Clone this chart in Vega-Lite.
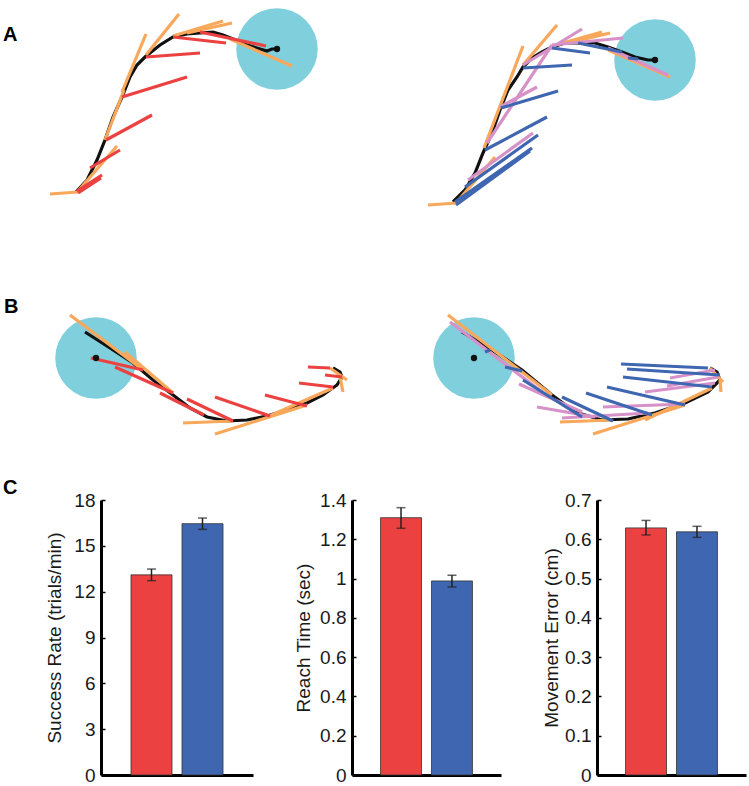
{
  "$schema": "https://vega.github.io/schema/vega-lite/v6.json",
  "padding": 0,
  "background": "white",
  "spacing": 0,
  "datasets": {
    "letters": [
      {"panel": "A1", "label": "A", "x": 3, "y": 41},
      {"panel": "B1", "label": "B", "x": 4, "y": 313},
      {"panel": "C0", "label": "C", "x": 3, "y": 494}
    ],
    "targets": [
      {"panel": "A1", "x": 277, "y": 49},
      {"panel": "A2", "x": 635, "y": 60},
      {"panel": "B1", "x": 96, "y": 358},
      {"panel": "B2", "x": 454, "y": 358}
    ],
    "paths": [
      {"panel": "A1", "i": 1, "x": 76, "y": 192}, {"panel": "A1", "i": 2, "x": 87, "y": 180}, {"panel": "A1", "i": 3, "x": 97, "y": 160}, {"panel": "A1", "i": 4, "x": 105, "y": 140}, {"panel": "A1", "i": 5, "x": 113, "y": 117}, {"panel": "A1", "i": 6, "x": 122, "y": 97}, {"panel": "A1", "i": 7, "x": 130, "y": 77}, {"panel": "A1", "i": 8, "x": 137, "y": 65}, {"panel": "A1", "i": 9, "x": 145, "y": 57}, {"panel": "A1", "i": 10, "x": 160, "y": 45}, {"panel": "A1", "i": 11, "x": 173, "y": 37}, {"panel": "A1", "i": 12, "x": 187, "y": 34}, {"panel": "A1", "i": 13, "x": 200, "y": 33}, {"panel": "A1", "i": 14, "x": 213, "y": 32}, {"panel": "A1", "i": 15, "x": 223, "y": 35}, {"panel": "A1", "i": 16, "x": 233, "y": 39}, {"panel": "A1", "i": 17, "x": 247, "y": 45}, {"panel": "A1", "i": 18, "x": 260, "y": 49}, {"panel": "A1", "i": 19, "x": 267, "y": 51}, {"panel": "A1", "i": 20, "x": 272, "y": 49}, {"panel": "A1", "i": 21, "x": 277, "y": 49},
      {"panel": "A2", "i": 1, "x": 433, "y": 202}, {"panel": "A2", "i": 2, "x": 445, "y": 190}, {"panel": "A2", "i": 3, "x": 455, "y": 173}, {"panel": "A2", "i": 4, "x": 463, "y": 153}, {"panel": "A2", "i": 5, "x": 472, "y": 133}, {"panel": "A2", "i": 6, "x": 480, "y": 110}, {"panel": "A2", "i": 7, "x": 488, "y": 90}, {"panel": "A2", "i": 8, "x": 497, "y": 77}, {"panel": "A2", "i": 9, "x": 503, "y": 67}, {"panel": "A2", "i": 10, "x": 512, "y": 58}, {"panel": "A2", "i": 11, "x": 522, "y": 52}, {"panel": "A2", "i": 12, "x": 532, "y": 47}, {"panel": "A2", "i": 13, "x": 545, "y": 43}, {"panel": "A2", "i": 14, "x": 562, "y": 43}, {"panel": "A2", "i": 15, "x": 575, "y": 43}, {"panel": "A2", "i": 16, "x": 588, "y": 47}, {"panel": "A2", "i": 17, "x": 602, "y": 52}, {"panel": "A2", "i": 18, "x": 615, "y": 57}, {"panel": "A2", "i": 19, "x": 628, "y": 60}, {"panel": "A2", "i": 20, "x": 635, "y": 60},
      {"panel": "B1", "i": 1, "x": 333, "y": 368}, {"panel": "B1", "i": 2, "x": 340, "y": 372}, {"panel": "B1", "i": 3, "x": 342, "y": 377}, {"panel": "B1", "i": 4, "x": 337, "y": 385}, {"panel": "B1", "i": 5, "x": 323, "y": 395}, {"panel": "B1", "i": 6, "x": 307, "y": 403}, {"panel": "B1", "i": 7, "x": 287, "y": 410}, {"panel": "B1", "i": 8, "x": 267, "y": 416}, {"panel": "B1", "i": 9, "x": 247, "y": 420}, {"panel": "B1", "i": 10, "x": 227, "y": 421}, {"panel": "B1", "i": 11, "x": 207, "y": 417}, {"panel": "B1", "i": 12, "x": 190, "y": 408}, {"panel": "B1", "i": 13, "x": 173, "y": 395}, {"panel": "B1", "i": 14, "x": 153, "y": 380}, {"panel": "B1", "i": 15, "x": 133, "y": 363}, {"panel": "B1", "i": 16, "x": 110, "y": 348}, {"panel": "B1", "i": 17, "x": 85, "y": 332},
      {"panel": "B2", "i": 1, "x": 690, "y": 368}, {"panel": "B2", "i": 2, "x": 697, "y": 372}, {"panel": "B2", "i": 3, "x": 700, "y": 380}, {"panel": "B2", "i": 4, "x": 688, "y": 392}, {"panel": "B2", "i": 5, "x": 665, "y": 403}, {"panel": "B2", "i": 6, "x": 635, "y": 413}, {"panel": "B2", "i": 7, "x": 608, "y": 419}, {"panel": "B2", "i": 8, "x": 582, "y": 420}, {"panel": "B2", "i": 9, "x": 555, "y": 412}, {"panel": "B2", "i": 10, "x": 532, "y": 395}, {"panel": "B2", "i": 11, "x": 502, "y": 370}, {"panel": "B2", "i": 12, "x": 472, "y": 350}, {"panel": "B2", "i": 13, "x": 442, "y": 332}
    ],
    "segs": [
      {"panel": "A1", "series": "Optimal", "x": 50, "y": 194, "x2": 78, "y2": 192},
      {"panel": "A1", "series": "Optimal", "x": 78, "y": 191, "x2": 117, "y2": 146},
      {"panel": "A1", "series": "Optimal", "x": 105, "y": 140, "x2": 124, "y2": 90},
      {"panel": "A1", "series": "Optimal", "x": 122, "y": 92, "x2": 146, "y2": 34},
      {"panel": "A1", "series": "Optimal", "x": 146, "y": 55, "x2": 179, "y2": 14},
      {"panel": "A1", "series": "Optimal", "x": 173, "y": 36, "x2": 223, "y2": 21},
      {"panel": "A1", "series": "Optimal", "x": 187, "y": 33, "x2": 232, "y2": 23},
      {"panel": "A1", "series": "Optimal", "x": 230, "y": 39, "x2": 292, "y2": 66},
      {"panel": "A1", "series": "Condition 1", "x": 77, "y": 191, "x2": 102, "y2": 175},
      {"panel": "A1", "series": "Condition 1", "x": 78, "y": 193, "x2": 101, "y2": 178},
      {"panel": "A1", "series": "Condition 1", "x": 90, "y": 168, "x2": 120, "y2": 150},
      {"panel": "A1", "series": "Condition 1", "x": 106, "y": 140, "x2": 152, "y2": 115},
      {"panel": "A1", "series": "Condition 1", "x": 122, "y": 97, "x2": 187, "y2": 77},
      {"panel": "A1", "series": "Condition 1", "x": 146, "y": 57, "x2": 200, "y2": 53},
      {"panel": "A1", "series": "Condition 1", "x": 173, "y": 37, "x2": 226, "y2": 43},
      {"panel": "A1", "series": "Condition 1", "x": 200, "y": 32, "x2": 266, "y2": 46},

      {"panel": "A2", "series": "Optimal", "x": 408, "y": 205, "x2": 437, "y2": 203},
      {"panel": "A2", "series": "Optimal", "x": 437, "y": 202, "x2": 475, "y2": 157},
      {"panel": "A2", "series": "Optimal", "x": 464, "y": 148, "x2": 503, "y2": 46},
      {"panel": "A2", "series": "Optimal", "x": 503, "y": 65, "x2": 537, "y2": 25},
      {"panel": "A2", "series": "Optimal", "x": 532, "y": 46, "x2": 582, "y2": 32},
      {"panel": "A2", "series": "Optimal", "x": 548, "y": 43, "x2": 590, "y2": 33},
      {"panel": "A2", "series": "Optimal", "x": 588, "y": 50, "x2": 650, "y2": 77},
      {"panel": "A2", "series": "Condition 2 alt", "x": 448, "y": 180, "x2": 513, "y2": 133},
      {"panel": "A2", "series": "Condition 2 alt", "x": 467, "y": 143, "x2": 532, "y2": 45},
      {"panel": "A2", "series": "Condition 2 alt", "x": 480, "y": 107, "x2": 517, "y2": 87},
      {"panel": "A2", "series": "Condition 2 alt", "x": 503, "y": 65, "x2": 562, "y2": 29},
      {"panel": "A2", "series": "Condition 2 alt", "x": 532, "y": 45, "x2": 603, "y2": 38},
      {"panel": "A2", "series": "Condition 2 alt", "x": 588, "y": 48, "x2": 648, "y2": 75},
      {"panel": "A2", "series": "Condition 2", "x": 435, "y": 202, "x2": 512, "y2": 148},
      {"panel": "A2", "series": "Condition 2", "x": 436, "y": 205, "x2": 510, "y2": 151},
      {"panel": "A2", "series": "Condition 2", "x": 445, "y": 187, "x2": 518, "y2": 135},
      {"panel": "A2", "series": "Condition 2", "x": 465, "y": 150, "x2": 527, "y2": 117},
      {"panel": "A2", "series": "Condition 2", "x": 481, "y": 108, "x2": 538, "y2": 91},
      {"panel": "A2", "series": "Condition 2", "x": 503, "y": 68, "x2": 552, "y2": 65},
      {"panel": "A2", "series": "Condition 2", "x": 532, "y": 48, "x2": 570, "y2": 53},
      {"panel": "A2", "series": "Condition 2", "x": 558, "y": 43, "x2": 602, "y2": 52},
      {"panel": "A2", "series": "Condition 2", "x": 608, "y": 58, "x2": 618, "y2": 59},

      {"panel": "B1", "series": "Optimal", "x": 70, "y": 315, "x2": 143, "y2": 370},
      {"panel": "B1", "series": "Optimal", "x": 125, "y": 352, "x2": 173, "y2": 393},
      {"panel": "B1", "series": "Optimal", "x": 183, "y": 423, "x2": 233, "y2": 421},
      {"panel": "B1", "series": "Optimal", "x": 215, "y": 434, "x2": 307, "y2": 405},
      {"panel": "B1", "series": "Optimal", "x": 267, "y": 417, "x2": 333, "y2": 388},
      {"panel": "B1", "series": "Optimal", "x": 330, "y": 368, "x2": 347, "y2": 380},
      {"panel": "B1", "series": "Optimal", "x": 340, "y": 377, "x2": 343, "y2": 392},
      {"panel": "B1", "series": "Condition 1", "x": 91, "y": 358, "x2": 143, "y2": 370},
      {"panel": "B1", "series": "Condition 1", "x": 115, "y": 367, "x2": 173, "y2": 393},
      {"panel": "B1", "series": "Condition 1", "x": 160, "y": 393, "x2": 204, "y2": 415},
      {"panel": "B1", "series": "Condition 1", "x": 187, "y": 399, "x2": 233, "y2": 421},
      {"panel": "B1", "series": "Condition 1", "x": 215, "y": 397, "x2": 270, "y2": 416},
      {"panel": "B1", "series": "Condition 1", "x": 265, "y": 395, "x2": 307, "y2": 406},
      {"panel": "B1", "series": "Condition 1", "x": 299, "y": 383, "x2": 333, "y2": 387},
      {"panel": "B1", "series": "Condition 1", "x": 325, "y": 375, "x2": 342, "y2": 377},
      {"panel": "B1", "series": "Condition 1", "x": 308, "y": 367, "x2": 330, "y2": 368},

      {"panel": "B2", "series": "Optimal", "x": 428, "y": 315, "x2": 532, "y2": 395},
      {"panel": "B2", "series": "Optimal", "x": 540, "y": 422, "x2": 592, "y2": 420},
      {"panel": "B2", "series": "Optimal", "x": 573, "y": 434, "x2": 665, "y2": 405},
      {"panel": "B2", "series": "Optimal", "x": 625, "y": 420, "x2": 692, "y2": 388},
      {"panel": "B2", "series": "Optimal", "x": 690, "y": 368, "x2": 703, "y2": 382},
      {"panel": "B2", "series": "Optimal", "x": 700, "y": 380, "x2": 701, "y2": 392},
      {"panel": "B2", "series": "Condition 2 alt", "x": 430, "y": 322, "x2": 522, "y2": 392},
      {"panel": "B2", "series": "Condition 2 alt", "x": 499, "y": 384, "x2": 562, "y2": 412},
      {"panel": "B2", "series": "Condition 2 alt", "x": 517, "y": 407, "x2": 575, "y2": 417},
      {"panel": "B2", "series": "Condition 2 alt", "x": 542, "y": 418, "x2": 628, "y2": 413},
      {"panel": "B2", "series": "Condition 2 alt", "x": 583, "y": 407, "x2": 665, "y2": 404},
      {"panel": "B2", "series": "Condition 2 alt", "x": 625, "y": 392, "x2": 695, "y2": 383},
      {"panel": "B2", "series": "Condition 2 alt", "x": 647, "y": 386, "x2": 698, "y2": 377},
      {"panel": "B2", "series": "Condition 2 alt", "x": 650, "y": 378, "x2": 695, "y2": 370},
      {"panel": "B2", "series": "Condition 2", "x": 465, "y": 352, "x2": 470, "y2": 350},
      {"panel": "B2", "series": "Condition 2", "x": 485, "y": 367, "x2": 502, "y2": 371},
      {"panel": "B2", "series": "Condition 2", "x": 503, "y": 380, "x2": 562, "y2": 417},
      {"panel": "B2", "series": "Condition 2", "x": 542, "y": 397, "x2": 593, "y2": 421},
      {"panel": "B2", "series": "Condition 2", "x": 566, "y": 393, "x2": 632, "y2": 415},
      {"panel": "B2", "series": "Condition 2", "x": 587, "y": 387, "x2": 665, "y2": 405},
      {"panel": "B2", "series": "Condition 2", "x": 603, "y": 377, "x2": 692, "y2": 387},
      {"panel": "B2", "series": "Condition 2", "x": 607, "y": 369, "x2": 700, "y2": 375},
      {"panel": "B2", "series": "Condition 2", "x": 601, "y": 364, "x2": 688, "y2": 368}
    ],
    "bars": [
      {"metric": "success", "group": "Condition 1", "mean": 13.1, "lo": 12.72, "hi": 13.48},
      {"metric": "success", "group": "Condition 2", "mean": 16.45, "lo": 16.08, "hi": 16.82},
      {"metric": "reach", "group": "Condition 1", "mean": 1.31, "lo": 1.256, "hi": 1.361},
      {"metric": "reach", "group": "Condition 2", "mean": 0.988, "lo": 0.957, "hi": 1.017},
      {"metric": "error", "group": "Condition 1", "mean": 0.629, "lo": 0.611, "hi": 0.648},
      {"metric": "error", "group": "Condition 2", "mean": 0.619, "lo": 0.605, "hi": 0.633}
    ]
  },
  "vconcat": [
    {
      "hconcat": [
        {
          "width": 374, "height": 240,
          "encoding": {
            "x": {"field": "x", "type": "quantitative", "scale": {"domain": [0, 374], "nice": false, "zero": false}, "axis": null},
            "y": {"field": "y", "type": "quantitative", "scale": {"domain": [240, 0], "nice": false, "zero": false}, "axis": null}
          },
          "layer": [
            {"data": {"name": "targets"}, "transform": [{"filter": "datum.panel == 'A1'"}], "mark": {"type": "point", "shape": "circle", "filled": true, "size": 6648, "color": "#80CFDD", "opacity": 1}},
            {"data": {"name": "paths"}, "transform": [{"filter": "datum.panel == 'A1'"}], "mark": {"type": "line", "color": "#111", "strokeWidth": 3.2}, "encoding": {"order": {"field": "i", "type": "quantitative"}}},
            {"data": {"name": "segs"}, "transform": [{"filter": "datum.panel == 'A1'"}], "mark": {"type": "rule", "strokeWidth": 3.2, "strokeCap": "butt"}, "encoding": {"x2": {"field": "x2"}, "y2": {"field": "y2"}, "color": {"field": "series", "type": "nominal", "legend": null, "scale": {"domain": ["Optimal", "Condition 1", "Condition 2 alt", "Condition 2"], "range": ["#F8A85A", "#EC4141", "#D791C9", "#3F66B0"]}}}},
            {"data": {"name": "targets"}, "transform": [{"filter": "datum.panel == 'A1'"}], "mark": {"type": "point", "shape": "circle", "filled": true, "size": 40, "color": "#111", "opacity": 1}},
            {"data": {"name": "letters"}, "transform": [{"filter": "datum.panel == 'A1'"}], "mark": {"type": "text", "align": "left", "baseline": "alphabetic", "fontSize": 20, "fontWeight": "bold", "font": "Liberation Sans", "color": "#000"}, "encoding": {"text": {"field": "label"}}}
          ]
        },
        {
          "width": 375, "height": 240,
          "encoding": {
            "x": {"field": "x", "type": "quantitative", "scale": {"domain": [374, 749], "nice": false, "zero": false}, "axis": null},
            "y": {"field": "y", "type": "quantitative", "scale": {"domain": [240, 0], "nice": false, "zero": false}, "axis": null}
          },
          "layer": [
            {"data": {"name": "targets"}, "transform": [{"filter": "datum.panel == 'A2'"}], "mark": {"type": "point", "shape": "circle", "filled": true, "size": 6648, "color": "#80CFDD", "opacity": 1}},
            {"data": {"name": "paths"}, "transform": [{"filter": "datum.panel == 'A2'"}], "mark": {"type": "line", "color": "#111", "strokeWidth": 3.2}, "encoding": {"order": {"field": "i", "type": "quantitative"}}},
            {"data": {"name": "segs"}, "transform": [{"filter": "datum.panel == 'A2'"}], "mark": {"type": "rule", "strokeWidth": 3.2, "strokeCap": "butt"}, "encoding": {"x2": {"field": "x2"}, "y2": {"field": "y2"}, "color": {"field": "series", "type": "nominal", "legend": null, "scale": {"domain": ["Optimal", "Condition 1", "Condition 2 alt", "Condition 2"], "range": ["#F8A85A", "#EC4141", "#D791C9", "#3F66B0"]}}}},
            {"data": {"name": "targets"}, "transform": [{"filter": "datum.panel == 'A2'"}], "mark": {"type": "point", "shape": "circle", "filled": true, "size": 40, "color": "#111", "opacity": 1}}
          ]
        }
      ]
    },
    {
      "hconcat": [
        {
          "width": 374, "height": 238,
          "encoding": {
            "x": {"field": "x", "type": "quantitative", "scale": {"domain": [0, 374], "nice": false, "zero": false}, "axis": null},
            "y": {"field": "y", "type": "quantitative", "scale": {"domain": [478, 240], "nice": false, "zero": false}, "axis": null}
          },
          "layer": [
            {"data": {"name": "targets"}, "transform": [{"filter": "datum.panel == 'B1'"}], "mark": {"type": "point", "shape": "circle", "filled": true, "size": 6648, "color": "#80CFDD", "opacity": 1}},
            {"data": {"name": "paths"}, "transform": [{"filter": "datum.panel == 'B1'"}], "mark": {"type": "line", "color": "#111", "strokeWidth": 3.2}, "encoding": {"order": {"field": "i", "type": "quantitative"}}},
            {"data": {"name": "segs"}, "transform": [{"filter": "datum.panel == 'B1'"}], "mark": {"type": "rule", "strokeWidth": 3.2, "strokeCap": "butt"}, "encoding": {"x2": {"field": "x2"}, "y2": {"field": "y2"}, "color": {"field": "series", "type": "nominal", "legend": null, "scale": {"domain": ["Optimal", "Condition 1", "Condition 2 alt", "Condition 2"], "range": ["#F8A85A", "#EC4141", "#D791C9", "#3F66B0"]}}}},
            {"data": {"name": "targets"}, "transform": [{"filter": "datum.panel == 'B1'"}], "mark": {"type": "point", "shape": "circle", "filled": true, "size": 40, "color": "#111", "opacity": 1}},
            {"data": {"name": "letters"}, "transform": [{"filter": "datum.panel == 'B1'"}], "mark": {"type": "text", "align": "left", "baseline": "alphabetic", "fontSize": 20, "fontWeight": "bold", "font": "Liberation Sans", "color": "#000"}, "encoding": {"text": {"field": "label"}}}
          ]
        },
        {
          "width": 375, "height": 238,
          "encoding": {
            "x": {"field": "x", "type": "quantitative", "scale": {"domain": [374, 749], "nice": false, "zero": false}, "axis": null},
            "y": {"field": "y", "type": "quantitative", "scale": {"domain": [478, 240], "nice": false, "zero": false}, "axis": null}
          },
          "layer": [
            {"data": {"name": "targets"}, "transform": [{"filter": "datum.panel == 'B2'"}], "mark": {"type": "point", "shape": "circle", "filled": true, "size": 6648, "color": "#80CFDD", "opacity": 1}},
            {"data": {"name": "paths"}, "transform": [{"filter": "datum.panel == 'B2'"}], "mark": {"type": "line", "color": "#111", "strokeWidth": 3.2}, "encoding": {"order": {"field": "i", "type": "quantitative"}}},
            {"data": {"name": "segs"}, "transform": [{"filter": "datum.panel == 'B2'"}], "mark": {"type": "rule", "strokeWidth": 3.2, "strokeCap": "butt"}, "encoding": {"x2": {"field": "x2"}, "y2": {"field": "y2"}, "color": {"field": "series", "type": "nominal", "legend": null, "scale": {"domain": ["Optimal", "Condition 1", "Condition 2 alt", "Condition 2"], "range": ["#F8A85A", "#EC4141", "#D791C9", "#3F66B0"]}}}},
            {"data": {"name": "targets"}, "transform": [{"filter": "datum.panel == 'B2'"}], "mark": {"type": "point", "shape": "circle", "filled": true, "size": 40, "color": "#111", "opacity": 1}}
          ]
        }
      ]
    },
    {
      "spacing": 25,
      "hconcat": [
        {
          "width": 20, "height": 275,
          "data": {"name": "letters"},
          "transform": [{"filter": "datum.panel == 'C0'"}],
          "mark": {"type": "text", "align": "left", "baseline": "alphabetic", "fontSize": 20, "fontWeight": "bold", "font": "Liberation Sans", "color": "#000"},
          "encoding": {
            "x": {"field": "x", "type": "quantitative", "scale": {"domain": [0, 20], "nice": false, "zero": false}, "axis": null},
            "y": {"field": "y", "type": "quantitative", "scale": {"domain": [775, 500], "nice": false, "zero": false}, "axis": null},
            "text": {"field": "label"}
          }
        },
        {
          "spacing": 41,
          "hconcat": [
            {
              "width": 152, "height": 275,
              "data": {"name": "bars"},
              "transform": [{"filter": "datum.metric == 'success'"}],
              "encoding": {"x": {"field": "group", "type": "nominal", "scale": {"paddingInner": 0.196, "paddingOuter": 0.588}, "axis": {"title": null, "labels": false, "ticks": false}}},
              "layer": [
                {"mark": {"type": "bar", "stroke": "#333", "strokeWidth": 0.8}, "encoding": {"y": {"field": "mean", "type": "quantitative", "scale": {"domain": [0, 18], "nice": false}, "axis": {"title": "Success Rate (trials/min)", "values": [0, 3, 6, 9, 12, 15, 18], "tickCount": 12, "format": "~g", "labelOverlap": false, "titlePadding": 9}}, "color": {"field": "group", "type": "nominal", "legend": null, "scale": {"domain": ["Optimal", "Condition 1", "Condition 2 alt", "Condition 2"], "range": ["#F8A85A", "#EC4141", "#D791C9", "#3F66B0"]}}}},
                {"mark": {"type": "rule", "color": "#222", "strokeWidth": 1.5}, "encoding": {"y": {"field": "lo", "type": "quantitative"}, "y2": {"field": "hi"}}},
                {"mark": {"type": "tick", "color": "#222", "thickness": 1.5, "size": 9}, "encoding": {"y": {"field": "lo", "type": "quantitative"}}},
                {"mark": {"type": "tick", "color": "#222", "thickness": 1.5, "size": 9}, "encoding": {"y": {"field": "hi", "type": "quantitative"}}}
              ]
            },
            {
              "width": 149, "height": 275,
              "data": {"name": "bars"},
              "transform": [{"filter": "datum.metric == 'reach'"}],
              "encoding": {"x": {"field": "group", "type": "nominal", "scale": {"paddingInner": 0.196, "paddingOuter": 0.56}, "axis": {"title": null, "labels": false, "ticks": false}}},
              "layer": [
                {"mark": {"type": "bar", "stroke": "#333", "strokeWidth": 0.8}, "encoding": {"y": {"field": "mean", "type": "quantitative", "scale": {"domain": [0, 1.4], "nice": false}, "axis": {"title": "Reach Time (sec)", "values": [0, 0.2, 0.4, 0.6, 0.8, 1, 1.2, 1.4], "tickCount": 12, "format": "~g", "labelOverlap": false, "titlePadding": 6}}, "color": {"field": "group", "type": "nominal", "legend": null, "scale": {"domain": ["Optimal", "Condition 1", "Condition 2 alt", "Condition 2"], "range": ["#F8A85A", "#EC4141", "#D791C9", "#3F66B0"]}}}},
                {"mark": {"type": "rule", "color": "#222", "strokeWidth": 1.5}, "encoding": {"y": {"field": "lo", "type": "quantitative"}, "y2": {"field": "hi"}}},
                {"mark": {"type": "tick", "color": "#222", "thickness": 1.5, "size": 9}, "encoding": {"y": {"field": "lo", "type": "quantitative"}}},
                {"mark": {"type": "tick", "color": "#222", "thickness": 1.5, "size": 9}, "encoding": {"y": {"field": "hi", "type": "quantitative"}}}
              ]
            },
            {
              "width": 149, "height": 275,
              "data": {"name": "bars"},
              "transform": [{"filter": "datum.metric == 'error'"}],
              "encoding": {"x": {"field": "group", "type": "nominal", "scale": {"paddingInner": 0.196, "paddingOuter": 0.56}, "axis": {"title": null, "labels": false, "ticks": false}}},
              "layer": [
                {"mark": {"type": "bar", "stroke": "#333", "strokeWidth": 0.8}, "encoding": {"y": {"field": "mean", "type": "quantitative", "scale": {"domain": [0, 0.7], "nice": false}, "axis": {"title": "Movement Error (cm)", "values": [0, 0.1, 0.2, 0.3, 0.4, 0.5, 0.6, 0.7], "tickCount": 12, "format": "~g", "labelOverlap": false, "titlePadding": 3}}, "color": {"field": "group", "type": "nominal", "legend": null, "scale": {"domain": ["Optimal", "Condition 1", "Condition 2 alt", "Condition 2"], "range": ["#F8A85A", "#EC4141", "#D791C9", "#3F66B0"]}}}},
                {"mark": {"type": "rule", "color": "#222", "strokeWidth": 1.5}, "encoding": {"y": {"field": "lo", "type": "quantitative"}, "y2": {"field": "hi"}}},
                {"mark": {"type": "tick", "color": "#222", "thickness": 1.5, "size": 9}, "encoding": {"y": {"field": "lo", "type": "quantitative"}}},
                {"mark": {"type": "tick", "color": "#222", "thickness": 1.5, "size": 9}, "encoding": {"y": {"field": "hi", "type": "quantitative"}}}
              ]
            }
          ]
        }
      ]
    }
  ],
  "config": {
    "view": {"stroke": null},
    "font": "Liberation Sans",
    "axis": {
      "labelFont": "Liberation Sans", "labelFontSize": 19, "labelColor": "#1a1a1a", "labelOverlap": false,
      "titleFont": "Liberation Sans", "titleFontSize": 19, "titleFontWeight": "normal", "titleColor": "#1a1a1a",
      "domainColor": "#000", "domainWidth": 3, "tickColor": "#000", "tickWidth": 1.5, "tickSize": -4,
      "labelPadding": 10, "grid": false
    }
  }
}
